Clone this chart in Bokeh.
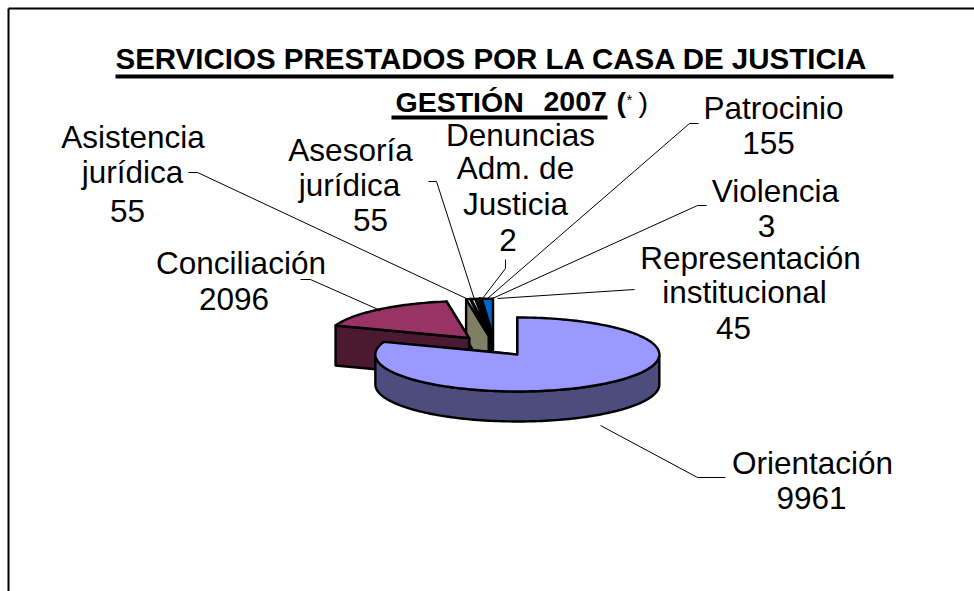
import numpy as np
from bokeh.plotting import figure
from bokeh.models import Range1d
from bokeh.core.properties import value
from bokeh.embed import file_html
from bokeh.resources import INLINE

W, H = 974, 591
names = ["Orientación", "Conciliación", "Asistencia jurídica", "Asesoría jurídica",
         "Representación institucional", "Denuncias Adm. de Justicia", "Violencia", "Patrocinio"]
vals = [9961, 2096, 55, 55, 45, 2, 3, 155]
cols = ["#9999FF", "#993366", "#FFFFCC", "#CCFFFF", "#660066", "#FF8080", "#CCCCFF", "#0066CC"]

p = figure(width=W, height=H, output_backend="svg", toolbar_location=None,
           x_range=Range1d(0, W), y_range=Range1d(H, 0), min_border=0)
p.axis.visible = False
p.grid.visible = False
p.outline_line_color = None
p.background_fill_color = "white"

CX, CY, RX, RY, EXP = 494.0, 345.5, 142.0, 37.0, 0.28
DEPTH = [30, 40, 40, 40, 40, 40, 40, 40]
LW = 2.4

def shade(c):
    r, g, b = int(c[1:3], 16), int(c[3:5], 16), int(c[5:7], 16)
    return "#%02X%02X%02X" % (r // 2, g // 2, b // 2)

total = sum(vals)
angs = np.concatenate([[0], np.cumsum(vals)]) / total * 2 * np.pi

def poly(x, y, fill):
    p.patch(list(x), list(y), fill_color=fill, line_color="black", line_width=LW, line_join="round")

def draw(i):
    a0, a1 = angs[i], angs[i + 1]
    mid = (a0 + a1) / 2
    ax = CX + EXP * RX * np.sin(mid)
    ay = CY - EXP * RY * np.cos(mid)
    t = np.linspace(a0, a1, max(3, int((a1 - a0) * 40)))
    ox = ax + RX * np.sin(t)
    oy = ay - RY * np.cos(t)
    d = DEPTH[i]
    c = cols[i]
    side = shade(c)
    poly([ox[-1], ax, ax, ox[-1]], [oy[-1], ay, ay + d, oy[-1] + d], side)
    poly([ox[0], ax, ax, ox[0]], [oy[0], ay, ay + d, oy[0] + d], side)
    mask = np.cos(t) < 0.0
    if mask.any():
        rx, ry = ox[mask], oy[mask]
        poly(np.r_[rx, rx[::-1]], np.r_[ry, ry[::-1] + d], side)
    poly(np.r_[ax, ox], np.r_[ay, oy], c)

for k in [7, 6, 5, 4, 3, 2, 1, 0]:
    draw(k)

# frame
p.line([8, 8], [H, 8], line_color="black", line_width=2)
p.line([8, W], [8, 8], line_color="black", line_width=2)

FONT = value("Liberation Sans")
def txt(x, y, s, size=31.5, align="center", style="normal"):
    p.text([x], [y - 0.34 * size], text=[s], text_font=FONT, text_font_size=f"{size}px", text_align=align,
           text_baseline="middle", text_color="black", text_font_style=style)

lines = [
    (132.5, 147, "Asistencia"), (132, 182, "jurídica"), (127, 221, "55"),
    (350, 160, "Asesoría"), (349, 195, "jurídica"), (370, 230, "55"),
    (520, 145, "Denuncias"), (515, 178, "Adm. de"), (515, 214, "Justicia"), (507.5, 250, "2"),
    (773, 118, "Patrocinio"), (768, 153, "155"),
    (775, 201, "Violencia"), (766, 236, "3"),
    (750, 268, "Representación"), (744, 302, "institucional"), (733, 338, "45"),
    (240.5, 273, "Conciliación"), (233.5, 309, "2096"),
    (812, 473, "Orientación"), (811, 508, "9961"),
]
for x, y, s in lines:
    txt(x, y, s)

leaders = [
    ([188, 197, 468], [172, 172, 299]),
    ([428, 436, 474], [181, 181, 299]),
    ([505, 505, 482], [259, 268, 298]),
    ([698, 689, 487], [123, 123, 298]),
    ([706, 697, 492], [205, 205, 298]),
    ([634, 497], [289, 298]),
    ([300, 310, 380], [279, 279, 310]),
    ([725, 697, 600], [477, 477, 425]),
]
for lx, ly in leaders:
    p.line(lx, ly, line_color="black", line_width=1)

txt(115, 68, "SERVICIOS PRESTADOS POR LA CASA DE JUSTICIA", size=29.5, align="left", style="bold")
txt(395, 111, "GESTIÓN", size=28.5, align="left", style="bold")
txt(543, 111, "2007", size=28.5, align="left", style="bold")
txt(616, 111, "(", size=28.5, align="left", style="bold")
txt(626, 104, "*", size=15, align="left")
txt(638, 111, ")", size=28.5, align="left")
p.line([115, 893], [76, 76], line_color="black", line_width=4)
p.line([391, 607], [117, 117], line_color="black", line_width=4)

open("out.html", "w").write(file_html(p, INLINE))
